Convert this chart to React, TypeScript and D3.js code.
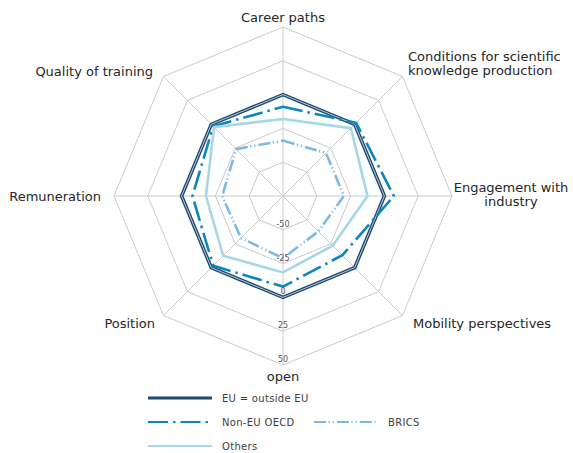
import React from 'react';
import * as d3 from 'd3';

// axes, clockwise from the top
const categories = [
  'Career paths',
  'Conditions for scientific knowledge production',
  'Engagement with industry',
  'Mobility perspectives',
  'open',
  'Position',
  'Remuneration',
  'Quality of training',
];

const euValues = [0, 0, 0, 0, 0, 0, 0, 0];
const nonEuOecdValues = [-9, 1.5, 7, -13, -8, -2, -8, -2];
const bricsValues = [-34, -30, -30, -38, -29, -31, -30, -26];
const othersValues = [-18, -4, -12.5, -23, -18.5, -12.5, -18, -3];

const tickValues = [-50, -25, 0, 25, 50];
const ringValues = [-50, -25, 0, 25, 50];

const W = 573;
const H = 453;
const cx = 283;
const cy = 196;
const R = 169;
const FONT = '"DejaVu Sans", sans-serif';

const series = [
  { name: 'EU = outside EU', values: euValues, color: '#1f4b73', width: 3.6, dash: null, inner: '#b9c6d4' },
  { name: 'Non-EU OECD', values: nonEuOecdValues, color: '#0b87bc', width: 2.6, dash: '20,5,2.5,5', inner: null },
  { name: 'BRICS', values: bricsValues, color: '#7cb9e4', width: 2.6, dash: '12,2.5,1.2,3,1.2,3', inner: null },
  { name: 'Others', values: othersValues, color: '#a7d6e4', width: 2.6, dash: null, inner: null },
];

// where each outer label goes (per axis)
const labelLayout = [
  { lines: ['Career paths'], x: 283, y: 22, anchor: 'middle' },
  { lines: ['Conditions for scientific', 'knowledge production'], x: 408, y: 61, anchor: 'start' },
  { lines: ['Engagement with', 'industry'], x: 511, y: 192, anchor: 'middle' },
  { lines: ['Mobility perspectives'], x: 413, y: 328, anchor: 'start' },
  { lines: ['open'], x: 283, y: 381, anchor: 'middle' },
  { lines: ['Position'], x: 155, y: 328, anchor: 'end' },
  { lines: ['Remuneration'], x: 101, y: 201, anchor: 'end' },
  { lines: ['Quality of training'], x: 153, y: 76, anchor: 'end' },
];

export default function App() {
  const r = d3.scaleLinear().domain([-75, 50]).range([0, R]);
  const angle = d3.scalePoint<number>().domain(d3.range(categories.length + 1)).range([0, 2 * Math.PI]);

  const radial = d3
    .lineRadial<number>()
    .angle((_, i) => angle(i) as number)
    .radius((d) => r(d))
    .curve(d3.curveLinearClosed);

  const ringLine = (v: number) => radial(categories.map(() => v)) as string;

  const pt = (i: number, v: number) => {
    const a = angle(i) as number;
    return [Math.sin(a) * r(v), -Math.cos(a) * r(v)];
  };

  return (
    <svg width={W} height={H} style={{ position: 'absolute', left: 0, top: 0, background: '#fff' }}>
      <g transform={`translate(${cx},${cy})`}>
        {/* grid */}
        {ringValues.map((v) => (
          <path key={v} d={ringLine(v)} fill="none" stroke="#cbcbcb" strokeWidth={1} />
        ))}
        {categories.map((c, i) => {
          const [x, y] = pt(i, 50);
          return <line key={c} x1={0} y1={0} x2={x} y2={y} stroke="#cbcbcb" strokeWidth={1} />;
        })}

        {/* series */}
        {series.map((s) => (
          <g key={s.name}>
            <path
              d={radial(s.values) as string}
              fill="none"
              stroke={s.color}
              strokeWidth={s.width}
              strokeDasharray={s.dash ?? undefined}
              strokeLinejoin="miter"
            />
            {s.inner && <path d={radial(s.values) as string} fill="none" stroke={s.inner} strokeWidth={1} />}
          </g>
        ))}

        {/* tick labels */}
        {tickValues.map((t) => (
          <text
            key={t}
            x={0}
            y={r(t) - 3}
            textAnchor="middle"
            fontFamily={FONT}
            fontSize={8}
            fill="#595959"
          >
            {t}
          </text>
        ))}
      </g>

      {/* axis labels */}
      {labelLayout.map((l, i) => (
        <text key={i} x={l.x} y={l.y} textAnchor={l.anchor} fontFamily={FONT} fontSize={13} fill="#262626">
          {l.lines.map((ln, j) => (
            <tspan key={j} x={l.x} dy={j === 0 ? 0 : 14}>
              {ln}
            </tspan>
          ))}
        </text>
      ))}

      {/* legend */}
      {series.map((s, i) => {
        const pos = [
          [148, 398],
          [148, 422],
          [314, 422],
          [148, 446],
        ][i];
        return (
          <g key={s.name} transform={`translate(${pos[0]},${pos[1]})`}>
            <line x1={0} x2={64} y1={0} y2={0} stroke={s.color} strokeWidth={s.width - 0.6} strokeDasharray={s.dash ?? undefined} />
            <text x={74} y={3.5} fontFamily={FONT} fontSize={10} letterSpacing={0.3} fill="#404040">
              {s.name}
            </text>
          </g>
        );
      })}
    </svg>
  );
}
